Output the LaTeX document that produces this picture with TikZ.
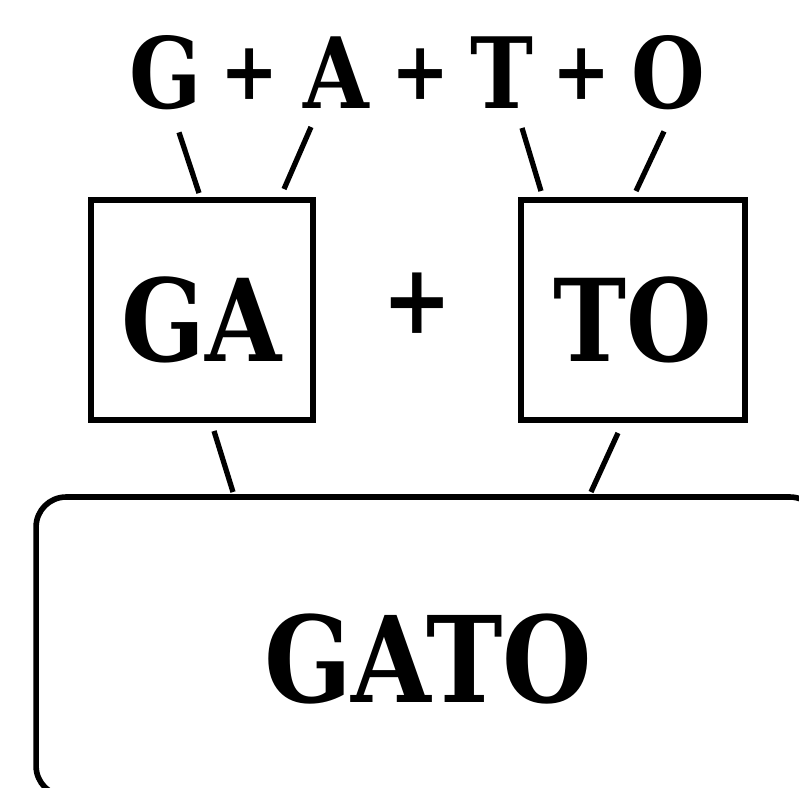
\documentclass[tikz,border=0pt]{standalone}
\usepackage{fontspec}
\setmainfont{DejaVu Serif}[FakeStretch=0.86]
\usetikzlibrary{calc}

\begin{document}
\begin{tikzpicture}[x=0.02cm,y=-0.02cm]
  \tikzstyle{every node}=[inner sep=0pt,outer sep=0pt];
  \tikzstyle{part}=[anchor=base,font=\fontsize{56}{56}\selectfont\bfseries];
  \tikzstyle{sign}=[anchor=base,font=\fontsize{46}{46}\selectfont\bfseries];
  \tikzstyle{box}=[draw,line width=3.2pt,minimum width=4.44cm,minimum height=4.4cm,text height=2.08cm,text depth=0pt,font=\fontsize{65}{65}\selectfont\bfseries];
  \tikzstyle{link}=[line width=3pt];
  \useasboundingbox (0,0) rectangle (799,788);
  \foreach \name/\x in {G/166,A/336,T/502,O/668}{
    \node[part] (\name) at (\x,108) {\name};
  }
  \foreach \name/\x in {pa/250,pb/421,pc/582}{
    \node[sign] (\name) at (\x,99) {+};
  }
  \node[box] (GA) at (202,310) {GA};
  \node[box,minimum width=4.48cm] (TO) at (633,310) {TO};
  \node[font=\fontsize{55}{55}\selectfont\bfseries] (plus) at (417,303) {+};
  \node[draw,line width=3.2pt,rounded corners=0.6cm,minimum width=15.68cm,minimum height=5.98cm,text height=2.26cm,text depth=0pt,font=\fontsize{68}{68}\selectfont\bfseries] (GATO) at (428,646.5) {GATO};
  \draw[link] ($(G.south)+(13,23)$) -- ($(GA.north)+(-3,-7)$);
  \draw[link] ($(A.south)+(-25,19)$) -- ($(GA.north)+(82,-11)$);
  \draw[link] ($(T.south)+(20,20)$) -- ($(TO.north)+(-92,-9)$);
  \draw[link] ($(O.south)+(-4,22)$) -- ($(TO.north)+(3,-9)$);
  \draw[link] ($(GA.south)+(12,11)$) -- ($(GATO.north)+(-195,-5)$);
  \draw[link] ($(TO.south)+(-15,13)$) -- ($(GATO.north)+(163,-5)$);
\end{tikzpicture}
\end{document}
